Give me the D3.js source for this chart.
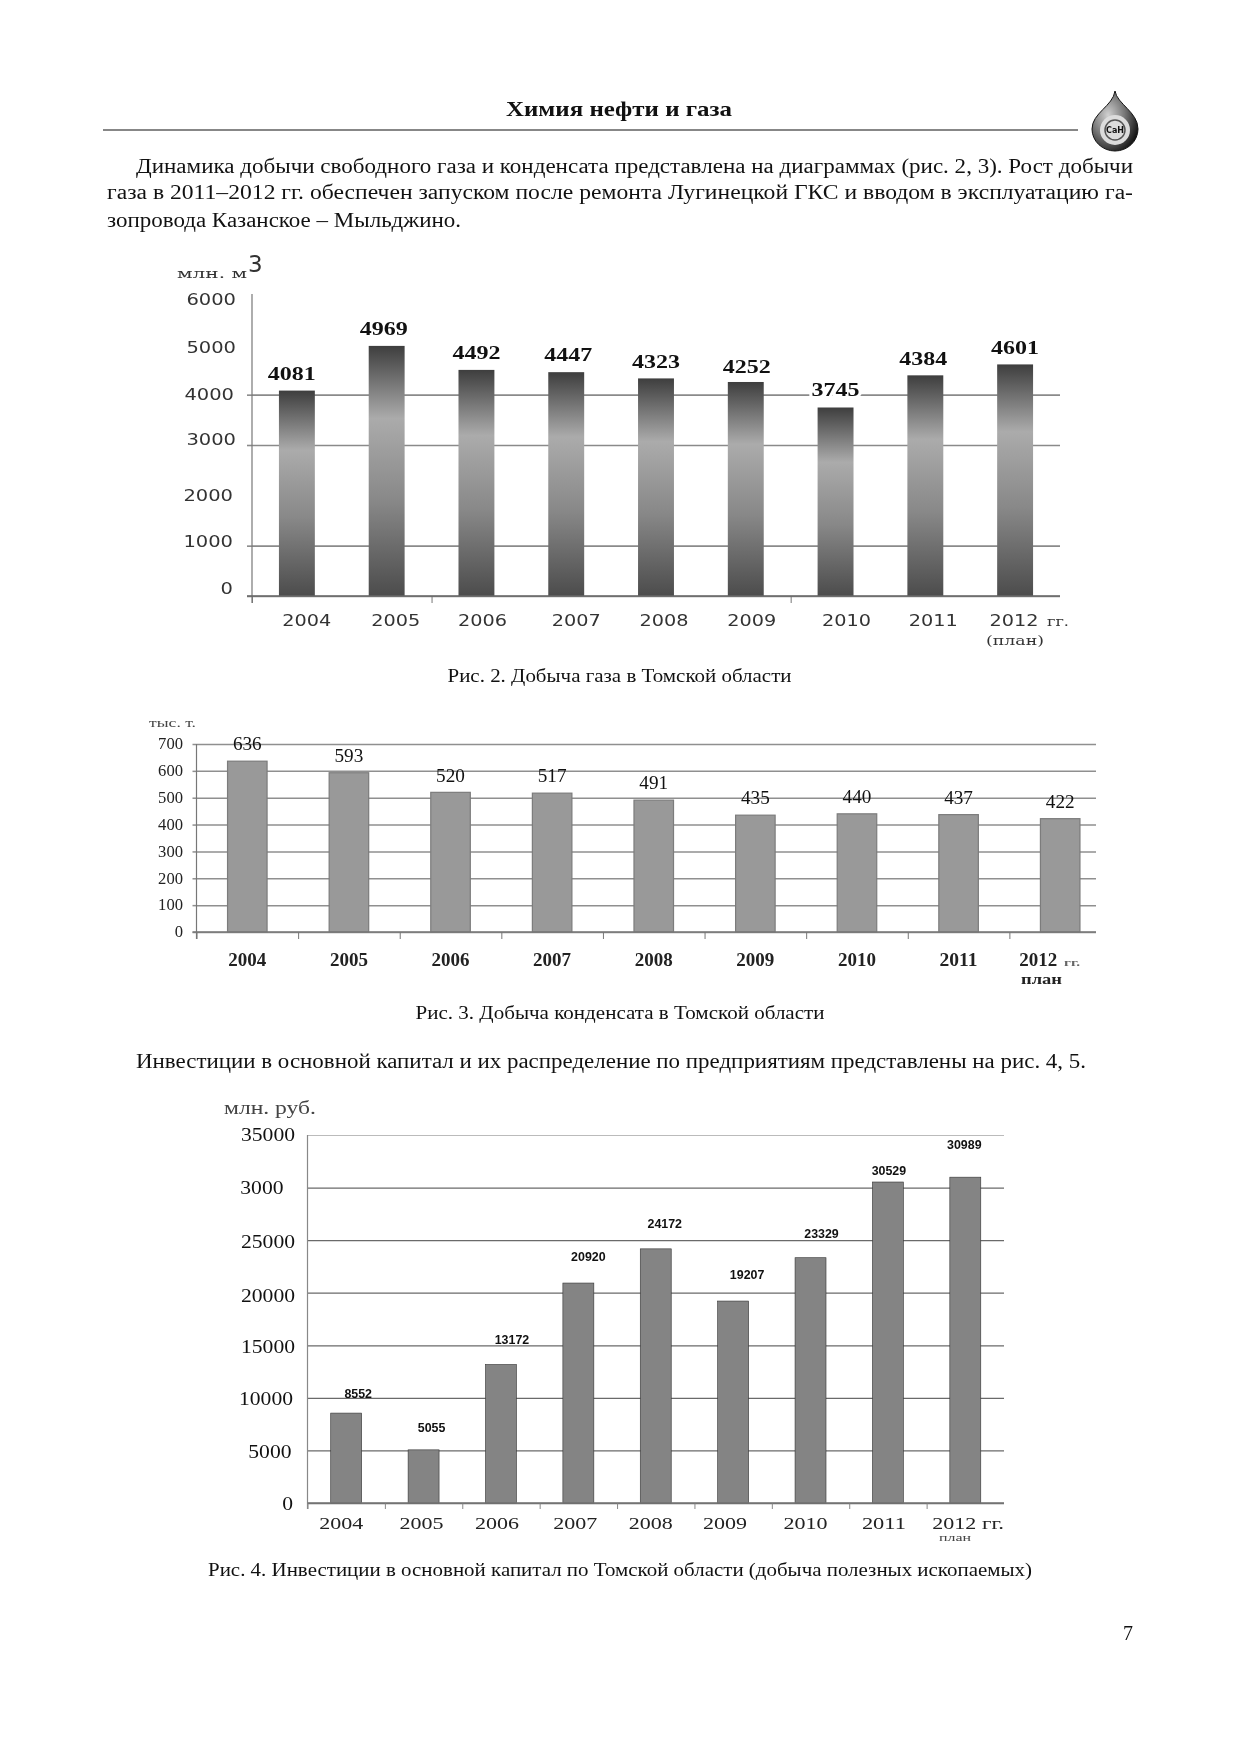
<!DOCTYPE html>
<html lang="ru"><head><meta charset="utf-8">
<script src="https://cdn.jsdelivr.net/npm/d3@7/dist/d3.min.js"></script>
<style>html,body{margin:0;padding:0;background:#fff}svg{display:block;filter:blur(.35px)}text{fill:#111}</style>
</head><body><svg id="page" width="1241" height="1755"></svg>
<script>
// ---------- data ----------
const years = ["2004","2005","2006","2007","2008","2009","2010","2011","2012"];
const gasValues = [4081,4969,4492,4447,4323,4252,3745,4384,4601];
const condensateValues = [636,593,520,517,491,435,440,437,422];
const investValues = [8552,5055,13172,20920,24172,19207,23329,30529,30989];
const gasTicks = [0,1000,2000,3000,4000,5000,6000];
const gasGrid = [0,1000,3000,4000];
const condensateTicks = [0,100,200,300,400,500,600,700];
const investTicks = [0,5000,10000,15000,20000,25000,30000,35000];
const investTickLabels = ["0","5000","10000","15000","20000","25000","3000","35000"];
const SERIF = "'Liberation Serif'", SANS = "'DejaVu Sans'", ARIAL = "'Liberation Sans'";

const svg = d3.select("#page");
const defs = svg.append("defs");
const grad = defs.append("linearGradient").attr("id","barGrad").attr("x1",0).attr("y1",0).attr("x2",0).attr("y2",1);
[[0,"#3e3e3e"],[0.29,"#ababab"],[0.62,"#888"],[1,"#4c4c4c"]].forEach(s=>grad.append("stop").attr("offset",s[0]).attr("stop-color",s[1]));
const dropGrad = defs.append("radialGradient").attr("id","dropGrad").attr("cx",.35).attr("cy",.4).attr("r",.8);
[[0,"#d0d0d0"],[.45,"#777"],[.85,"#1a1a1a"],[1,"#000"]].forEach(s=>dropGrad.append("stop").attr("offset",s[0]).attr("stop-color",s[1]));

function put(t,x,y,o={}){
  const e=svg.append("text").attr("x",x).attr("y",y).text(t)
    .attr("font-family",o.font||SERIF).attr("font-size",o.size||18)
    .attr("font-weight",o.weight||"normal").attr("text-anchor",o.anchor||"start");
  if(o.len) e.attr("textLength",o.len).attr("lengthAdjust","spacingAndGlyphs");
  if(o.fill) e.style("fill",o.fill);
  return e;
}

// ---------- page text ----------
put("Химия нефти и газа",506,116,{size:22,weight:"bold",len:226});
svg.append("line").attr("x1",103).attr("x2",1078).attr("y1",130).attr("y2",130).attr("stroke","#111").attr("stroke-width",1.2);
put("Динамика добычи свободного газа и конденсата представлена на диаграммах (рис. 2, 3). Рост добычи",136,173,{size:20.5,len:997});
put("газа в 2011–2012 гг. обеспечен запуском после ремонта Лугинецкой ГКС и вводом в эксплуатацию га-",107,199,{size:20.5,len:1026});
put("зопровода Казанское – Мыльджино.",107,227,{size:20.5,len:354});
put("Рис. 2. Добыча газа в Томской области",447.5,682,{size:19,len:344});
put("Рис. 3. Добыча конденсата в Томской области",415.5,1019,{size:19,len:409});
put("Инвестиции в основной капитал и их распределение по предприятиям представлены на рис. 4, 5.",136,1068,{size:20.5,len:950});
put("Рис. 4. Инвестиции в основной капитал по Томской области (добыча полезных ископаемых)",208,1576,{size:19,len:824});
put("7",1128,1640,{size:20,anchor:"middle"});

// logo
const logo=svg.append("g");
logo.append("path").attr("d","M1115,91 C1117,104 1138,112 1138,129 A23,22 0 0 1 1092,129 C1092,113 1113,106 1115,91 Z").attr("fill","url(#dropGrad)").attr("stroke","#111");
logo.append("circle").attr("cx",1115).attr("cy",130).attr("r",15).attr("fill","#dcdcdc");
logo.append("circle").attr("cx",1115).attr("cy",130).attr("r",10).attr("fill","none").attr("stroke","#555").attr("stroke-width",1.5);
svg.append("text").attr("x",1115).attr("y",133).attr("text-anchor","middle").attr("font-family",SANS).attr("font-weight","bold").attr("font-size",8).text("СаН");

// ---------- chart builder ----------
function chart(c){
  const x=d3.scaleBand().domain(years).range([c.left,c.right]).paddingInner(c.pad).paddingOuter(c.pad/2);
  const y=d3.scaleLinear().domain([0,c.max]).range([c.bottom,c.top]);
  const edge=d3.scaleLinear().domain([0,years.length]).range([c.left,c.right]);
  const g=svg.append("g");
  const grid=g.append("g").attr("transform",`translate(${c.left},0)`)
    .call(d3.axisLeft(y).tickValues(c.grid).tickSize(-(c.gridEnd-c.left)).tickSizeOuter(0).tickFormat(""));
  grid.select(".domain").remove();
  grid.selectAll(".tick line").attr("stroke",c.gridColor).attr("stroke-width",c.gridW);
  if(c.gridStyle) c.gridStyle(grid);
  g.append("g").attr("transform",`translate(${c.left},0)`)
    .call(d3.axisLeft(y).tickValues(c.grid).tickSize(c.leftTick).tickFormat(""))
    .call(a=>a.select(".domain").remove())
    .selectAll(".tick line").attr("stroke",c.gridColor).attr("stroke-width",c.gridW);
  g.append("line").attr("x1",c.left).attr("x2",c.left).attr("y1",y(c.max)).attr("y2",c.bottom+c.tick).attr("stroke",c.axisColor).attr("stroke-width",1.2);
  g.append("g").attr("transform",`translate(0,${c.bottom})`)
    .call(d3.axisBottom(edge).tickValues(c.tickIdx).tickSize(c.tick).tickFormat(""))
    .call(a=>a.select(".domain").remove())
    .selectAll(".tick line").attr("stroke",c.axisColor);
  g.selectAll("rect.bar").data(c.values).join("rect").attr("class","bar")
    .attr("x",(d,i)=>x(years[i])).attr("width",x.bandwidth())
    .attr("y",d=>y(d)).attr("height",d=>c.bottom-y(d))
    .attr("fill",c.fill).attr("stroke",c.stroke||"none").attr("stroke-width",c.strokeW||0);
  g.append("line").attr("x1",c.left-c.leftTick).attr("x2",c.gridEnd).attr("y1",y(0)).attr("y2",y(0)).attr("stroke",c.baseColor).attr("stroke-width",c.gridW);
  c.ticks.forEach((v,i)=>{
    const l=c.tickLabels?c.tickLabels[i]:String(v);
    put(l,c.tickEnd[i],y(v)+c.tickDy[i]+c.tickSize*0.33,{font:c.tickFont,size:c.tickSize,anchor:"end",len:l.length*c.digitW,fill:c.tickFill});
  });
  c.values.forEach((v,i)=>{
    const e=put(String(v),x(years[i])+x.bandwidth()/2+c.dataDx[i],y(v)+c.dataDy[i]+c.dataSize*0.33,
      {font:c.dataFont,size:c.dataSize,anchor:"middle",weight:c.dataWeight,len:String(v).length*c.dataW});
    if(c.halo) e.attr("paint-order","stroke").attr("stroke","#fff").attr("stroke-width",c.halo[i]);
  });
  years.forEach((yr,i)=>{
    put(yr,x(yr)+x.bandwidth()/2+c.catDx[i],c.catY,{font:c.catFont,size:c.catSize,weight:c.catWeight,anchor:"middle",len:c.catW,fill:c.catFill});
  });
}
const zero9=[0,0,0,0,0,0,0,0,0];
chart({values:gasValues,max:6000,left:252,right:1060,gridEnd:1060,top:294,bottom:596,pad:.6,
  grid:gasGrid,gridColor:"#8a8a8a",gridW:1.6,axisColor:"#777",baseColor:"#666",leftTick:5,tick:7,tickIdx:[0,2,6],
  fill:"url(#barGrad)",ticks:gasTicks,tickEnd:[233,233,233,236,234,236,236],tickDy:[-7,-4,0,-5,0,3,6],
  tickFont:SANS,tickSize:16,digitW:12.4,tickFill:"#333",
  dataDx:[-5,-3,0,2,0,1,0,-2,0],dataDy:[-17,-17,-17,-17,-17,-15,-18,-17,-17],dataFont:SERIF,dataSize:19,dataWeight:"bold",dataW:12,
  halo:[0,0,0,0,0,0,5,0,0],
  catDx:[10,9,6,10,8,6,11,8,-1],catY:626,catFont:SANS,catSize:16,catWeight:"normal",catW:49,catFill:"#333"});
chart({values:condensateValues,max:700,left:196.5,right:1111,gridEnd:1096,top:744,bottom:932,pad:.611,
  grid:condensateTicks,gridColor:"#8f8f8f",gridW:1.5,axisColor:"#777",baseColor:"#777",leftTick:4,tick:7,tickIdx:[0,1,2,3,4,5,6,7,8],
  fill:"#999",stroke:"#7c7c7c",strokeW:1.2,ticks:condensateTicks,tickEnd:Array(8).fill(183),tickDy:Array(8).fill(0),
  tickFont:SERIF,tickSize:16,digitW:8.3,tickFill:"#222",
  dataDx:zero9,dataDy:Array(9).fill(-17),dataFont:SERIF,dataSize:19,dataWeight:"normal",dataW:9.6,
  catDx:[0,0,0,0,0,0,0,0,-22],catY:966,catFont:SERIF,catSize:18,catWeight:"bold",catW:38,catFill:"#222"});
chart({values:investValues,max:35000,left:307.5,right:1004,gridEnd:1004,top:1135,bottom:1503,pad:.6,
  grid:investTicks,gridColor:"#6a6a6a",gridW:1.3,axisColor:"#888",baseColor:"#777",leftTick:0,tick:6,tickIdx:[0,1,2,3,4,5,6,7,8],
  fill:"#848484",stroke:"#333",strokeW:.6,ticks:investTicks,tickLabels:investTickLabels,tickEnd:[293,291.5,293,295,295,295,283.5,295],tickDy:[1,2,1,2,3,2,0,0],
  tickFont:SERIF,tickSize:18,digitW:10.8,tickFill:"#111",
  gridStyle:gr=>gr.selectAll(".tick line").filter(d=>d===35000).attr("stroke","#bbb").attr("stroke-width",1),
  dataDx:[12,8,11,10,9,14,11,1,-1],dataDy:[-19,-22,-24,-26,-25,-26,-24,-11,-32],dataFont:ARIAL,dataSize:12,dataWeight:"bold",dataW:6.9,
  catDx:[-5,-2,-4,-3,-5,-8,-5,-4,-11],catY:1529,catFont:SERIF,catSize:17,catWeight:"normal",catW:44,catFill:"#222"});

// ---------- units and notes ----------
put("млн. м",177,278,{font:"'DejaVu Serif'",size:13,len:70,fill:"#333"});
put("3",248,272,{font:SANS,size:23,fill:"#333"});
put("гг.",1047,626,{font:"'DejaVu Serif'",size:13,len:22,fill:"#333"});
put("(план)",1015,645,{font:"'DejaVu Serif'",size:13,anchor:"middle",len:58,fill:"#333"});
put("тыс. т.",149,727,{size:13,len:47,fill:"#444"});
put("гг.",1064,966,{size:11,len:16,fill:"#666",weight:"bold"});
put("план",1041.5,984,{size:15,anchor:"middle",len:41,weight:"bold",fill:"#222"});
put("млн. руб.",224,1114,{size:19,len:92,fill:"#444"});
put("гг.",982,1529,{size:17,len:22,fill:"#222"});
put("план",955,1541,{size:10,anchor:"middle",len:32,fill:"#444"});
</script></body></html>
